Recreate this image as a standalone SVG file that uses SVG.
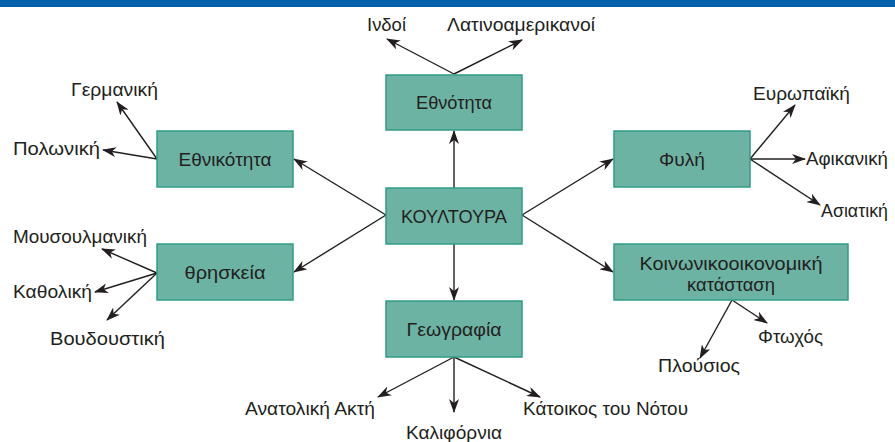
<svg xmlns="http://www.w3.org/2000/svg" width="895" height="442" viewBox="0 0 895 442">
<style>
.box{fill:#6db3a4;stroke:#2f9c87;stroke-width:1.5}
.t{font-family:"Liberation Sans",Arial,sans-serif;font-size:19px;fill:#231f20}
.c{text-anchor:middle}
.ln{stroke:#231f20;stroke-width:1.4;fill:none;marker-end:url(#ah)}
</style>
<defs>
<marker id="ah" viewBox="0 0 14 10" refX="13" refY="5" markerWidth="14" markerHeight="10" markerUnits="userSpaceOnUse" orient="auto">
<path d="M0,0 L14,5 L0,10 L4,5 Z" fill="#231f20"/>
</marker>
</defs>
<rect x="0" y="0" width="895" height="7" fill="#0061ad"/>
<g id="connectors">
<line class="ln" x1="454" y1="188" x2="454" y2="131"/>
<line class="ln" x1="454" y1="244" x2="454" y2="300"/>
<line class="ln" x1="386" y1="215" x2="294" y2="159"/>
<line class="ln" x1="386" y1="215" x2="294" y2="272"/>
<line class="ln" x1="522" y1="215" x2="613" y2="159"/>
<line class="ln" x1="522" y1="215" x2="613" y2="272"/>
<line class="ln" x1="454" y1="74" x2="387" y2="39"/>
<line class="ln" x1="454" y1="74" x2="522" y2="40"/>
<line class="ln" x1="157" y1="159" x2="117" y2="102"/>
<line class="ln" x1="157" y1="159" x2="103" y2="150"/>
<line class="ln" x1="157" y1="273" x2="102" y2="249"/>
<line class="ln" x1="157" y1="273" x2="95" y2="292"/>
<line class="ln" x1="157" y1="273" x2="107" y2="320"/>
<line class="ln" x1="750" y1="159" x2="795" y2="105"/>
<line class="ln" x1="750" y1="159" x2="805" y2="159"/>
<line class="ln" x1="750" y1="159" x2="820" y2="205"/>
<line class="ln" x1="732" y1="300" x2="767" y2="323"/>
<line class="ln" x1="732" y1="300" x2="700" y2="358"/>
<line class="ln" x1="454" y1="357" x2="378" y2="397"/>
<line class="ln" x1="454" y1="357" x2="454" y2="412"/>
<line class="ln" x1="454" y1="357" x2="540" y2="397"/>
</g>
<g id="kultoura"><rect class="box" x="386" y="188" width="136" height="56"/><text class="t c" x="454" y="223" textLength="106" lengthAdjust="spacingAndGlyphs">ΚΟΥΛΤΟΥΡΑ</text></g>
<g id="ethnotita"><rect class="box" x="386" y="75" width="136" height="55"/><text class="t c" x="454" y="109" textLength="76" lengthAdjust="spacingAndGlyphs">Εθνότητα</text></g>
<g id="ethnikotita"><rect class="box" x="157" y="131" width="136" height="56"/><text class="t c" x="225" y="166" textLength="93" lengthAdjust="spacingAndGlyphs">Εθνικότητα</text></g>
<g id="thriskeia"><rect class="box" x="157" y="244" width="136" height="56"/><text class="t c" x="225" y="279" textLength="81" lengthAdjust="spacingAndGlyphs">θρησκεία</text></g>
<g id="fyli"><rect class="box" x="614" y="131" width="136" height="56"/><text class="t c" x="682" y="166" textLength="46" lengthAdjust="spacingAndGlyphs">Φυλή</text></g>
<g id="koinoniko"><rect class="box" x="614" y="244" width="234" height="56"/><text class="t c" x="731" y="270" textLength="183" lengthAdjust="spacingAndGlyphs">Κοινωνικοοικονομική</text><text class="t c" x="731" y="291" textLength="88" lengthAdjust="spacingAndGlyphs">κατάσταση</text></g>
<g id="geografia"><rect class="box" x="386" y="301" width="136" height="56"/><text class="t c" x="454" y="336" textLength="95" lengthAdjust="spacingAndGlyphs">Γεωγραφία</text></g>
<g id="labels">
<text class="t" x="367" y="31" textLength="39" lengthAdjust="spacingAndGlyphs">Ινδοί</text>
<text class="t" x="447" y="31" textLength="148" lengthAdjust="spacingAndGlyphs">Λατινοαμερικανοί</text>
<text class="t" x="71" y="96" textLength="87" lengthAdjust="spacingAndGlyphs">Γερμανική</text>
<text class="t" x="13" y="155" textLength="87" lengthAdjust="spacingAndGlyphs">Πολωνική</text>
<text class="t" x="13" y="243" textLength="134" lengthAdjust="spacingAndGlyphs">Μουσουλμανική</text>
<text class="t" x="13" y="298" textLength="79" lengthAdjust="spacingAndGlyphs">Καθολική</text>
<text class="t" x="50" y="345" textLength="115" lengthAdjust="spacingAndGlyphs">Βουδουστική</text>
<text class="t" x="753" y="100" textLength="97" lengthAdjust="spacingAndGlyphs">Ευρωπαϊκή</text>
<text class="t" x="806" y="165" textLength="82" lengthAdjust="spacingAndGlyphs">Αφικανική</text>
<text class="t" x="821" y="217" textLength="67" lengthAdjust="spacingAndGlyphs">Ασιατική</text>
<text class="t" x="758" y="343" textLength="65" lengthAdjust="spacingAndGlyphs">Φτωχός</text>
<text class="t" x="658" y="372" textLength="82" lengthAdjust="spacingAndGlyphs">Πλούσιος</text>
<text class="t" x="245" y="415" textLength="130" lengthAdjust="spacingAndGlyphs">Ανατολική Ακτή</text>
<text class="t" x="523" y="415" textLength="165" lengthAdjust="spacingAndGlyphs">Κάτοικος του Νότου</text>
<text class="t" x="406" y="439" textLength="96" lengthAdjust="spacingAndGlyphs">Καλιφόρνια</text>
</g>
</svg>
